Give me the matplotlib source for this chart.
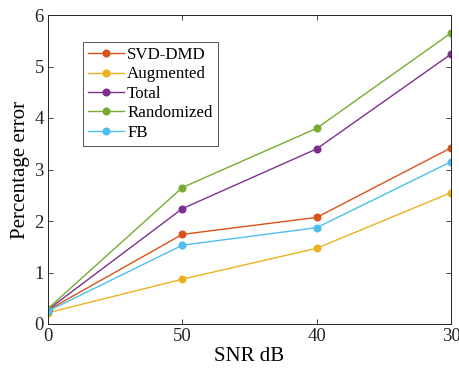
import matplotlib.pyplot as plt

plt.rcParams['font.family'] = ['Liberation Serif', 'DejaVu Serif']
plt.rcParams['mathtext.fontset'] = 'stix'

snr_labels = ['0', '50', '40', '30']
svd_dmd = [0.27, 1.74, 2.07, 3.42]
augmented = [0.22, 0.87, 1.47, 2.55]
total = [0.28, 2.24, 3.40, 5.24]
randomized = [0.30, 2.65, 3.80, 5.65]
fb = [0.25, 1.53, 1.87, 3.15]

series = [
    ('SVD-DMD', svd_dmd, '#D95319'),
    ('Augmented', augmented, '#EDB120'),
    ('Total', total, '#7E2F8E'),
    ('Randomized', randomized, '#77AC30'),
    ('FB', fb, '#4DBEEE'),
]

x = list(range(len(snr_labels)))

fig = plt.figure(figsize=(4.6, 3.73), dpi=100)
ax = fig.add_axes([48 / 460, 1 - 324 / 373, 403 / 460, 309 / 373])

for name, vals, color in series:
    ax.plot(x, vals, color=color, marker='o', markersize=4.8, linewidth=1.0, label=name)

ax.set_xlim(0, 3)
ax.set_ylim(0, 6)
ax.set_xticks(x)
ax.set_xticklabels(snr_labels)
ax.set_yticks(range(0, 7))
ax.tick_params(direction='in', length=3.5, width=0.6, labelsize=13.5, top=True, right=True,
               colors='#262626', pad=3)
for side in ax.spines.values():
    side.set_color('#262626')
    side.set_linewidth(0.7)
ax.set_xlabel('SNR dB', fontsize=15, labelpad=1)
ax.set_ylabel('Percentage error', fontsize=15, labelpad=3)

leg = ax.legend(loc='upper left', bbox_to_anchor=(35 / 403, 1 - 27 / 309), fontsize=12.2,
                frameon=True, fancybox=False, edgecolor='#262626', borderpad=0.3,
                handlelength=2.1, handletextpad=0.2, labelspacing=0.2, borderaxespad=0)
leg.get_frame().set_linewidth(0.7)

fig.savefig('out.png', dpi=100)
